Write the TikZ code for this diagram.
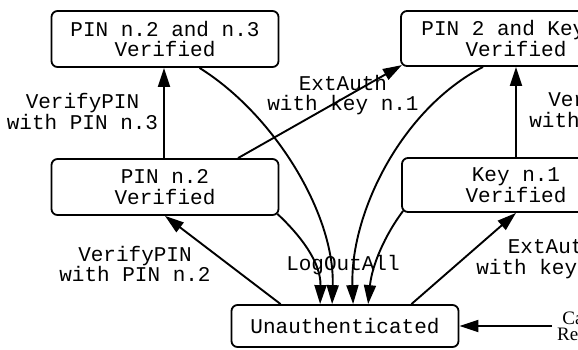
\documentclass[tikz,border=0pt]{standalone}
\usepackage{fontspec}
\setmonofont{Liberation Mono}
\newfontfamily\cardresetfont{Liberation Serif}
\usetikzlibrary{arrows.meta,calc}
\newcommand\diagfont{\ttfamily\fontsize{21}{20.5}\selectfont}
\newcommand\cardfont{\cardresetfont\fontsize{19}{15.5}\selectfont}

\begin{document}
\begin{tikzpicture}[x=1pt,y=-1pt,
  state/.style={draw, line width=1.8pt, rounded corners=6pt, minimum width=227pt,
                align=center, inner sep=0pt, font=\diagfont},
  twoline/.style={state, minimum height=56pt},
  oneline/.style={state, minimum height=42pt},
  trans/.style={line width=1.9pt, -{Triangle[length=19pt,width=12pt]}},
  lbl/.style={align=center, inner sep=0pt, font=\diagfont}
]
\useasboundingbox (0,0) rectangle (578,349);
\clip (0,0) rectangle (578,349);

% states
\node[twoline] (b1) at (165,39) {PIN n.2 and n.3\\Verified};
\node[twoline, minimum width=230pt, minimum height=55pt] (b2) at (516,38.5) {PIN 2 and Key 1\\Verified};
\node[twoline] (b3) at (165,187) {PIN n.2\\Verified};
\node[twoline, minimum width=228pt, minimum height=54pt] (b4) at (516,185) {Key n.1\\Verified};
\node[oneline] (b5) at (345,326) {Unauthenticated};
\node[align=right, inner sep=2pt, anchor=west, font=\cardfont] (reset) at (555,326) {Card\\Reset};

% transitions
\draw[trans] ($(b3.north)+(-1,0)$) -- ($(b1.south)+(-1,0)$);
\draw[trans] ($(b5.north west)+(50,0)$) -- (b3.south);
\draw[trans] ($(b3.north)+(73,0)$) -- ($(b2.south west)+(1.8,-1.8)$);
\draw[trans] ($(b5.north east)+(-48,0)$) -- (b4.south);
\draw[trans] (b4.north) -- (b4.north |- b2.south);
\draw[trans] ($(reset.west)+(-3,0)$) -- (b5.east);

% log-out transitions back to the initial state
\draw[trans] ($(b3.south east)+(-2,-2)$) .. controls (300,235) and (321,262) .. ($(b5.north west)+(89.5,0)$);
\draw[trans] ($(b1.south)+(34.5,0)$) .. controls (275,115) and (335,215) .. ($(b5.north west)+(101.5,0)$);
\draw[trans] ($(b2.south)+(-33,0)$) .. controls (400,110) and (350,215) .. ($(b5.north west)+(122.5,0)$);
\draw[trans] ($(b4.south west)+(2,-2)$) .. controls (385,235) and (372,265) .. ($(b5.north west)+(137.5,0)$);

% transition labels
\node[lbl] (l1) at (82.5,111.5) {VerifyPIN\\with PIN n.3};
\node[lbl] (l2) at (135,264) {VerifyPIN\\with PIN n.2};
\node[lbl] (l3) at (343,95) {ExtAuth\\with key n.1};
\node[lbl] (l4) at (552,258.5) {ExtAuth\\with key n.1};
\node[lbl] (l5) at (605,109.5) {VerifyPIN\\with PIN n.2};
\node[lbl] (l6) at (343,265) {LogOutAll};
\end{tikzpicture}
\end{document}
